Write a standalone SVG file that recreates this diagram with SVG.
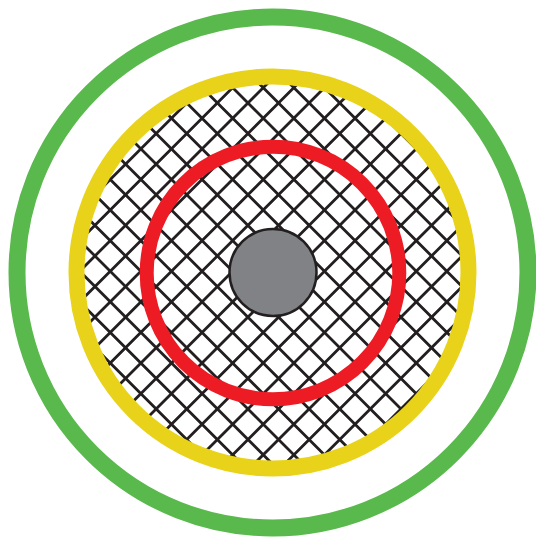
<svg xmlns="http://www.w3.org/2000/svg" width="536" height="538" viewBox="0 0 536 538">
  <defs>
    <clipPath id="inner">
      <circle cx="272.5" cy="272.5" r="196"/>
    </clipPath>
  </defs>
  <style>
    .ring { fill: none; }
    .hatch { fill: none; stroke: #231f20; stroke-width: 2.8; }
  </style>
  <rect width="536" height="538" fill="#ffffff"/>
  <g id="outer-ring">
    <circle class="ring" cx="272.5" cy="272.5" r="255.5" stroke="#59b94c" stroke-width="17"/>
  </g>
  <g id="hatched-layer">
    <g clip-path="url(#inner)">
      <path class="hatch" d="M289.7 0L-255.3 545M320.3 0L-224.7 545M350.9 0L-194.1 545M381.5 0L-163.5 545M412.1 0L-132.9 545M442.7 0L-102.3 545M473.3 0L-71.7 545M503.9 0L-41.1 545M534.5 0L-10.5 545M565.1 0L20.1 545M595.7 0L50.7 545M626.3 0L81.3 545M656.9 0L111.9 545M687.5 0L142.5 545M718.1 0L173.1 545M748.7 0L203.7 545M779.3 0L234.3 545M809.9 0L264.9 545"/>
      <path class="hatch" d="M-252.8 0L292.2 545M-222.2 0L322.8 545M-191.6 0L353.4 545M-161 0L384 545M-130.4 0L414.6 545M-99.8 0L445.2 545M-69.2 0L475.8 545M-38.6 0L506.4 545M-8 0L537 545M22.6 0L567.6 545M53.2 0L598.2 545M83.8 0L628.8 545M114.4 0L659.4 545M145 0L690 545M175.6 0L720.6 545M206.2 0L751.2 545M236.8 0L781.8 545M267.4 0L812.4 545"/>
    </g>
    <circle class="ring" cx="272.5" cy="272.5" r="196" stroke="#e8d31a" stroke-width="16"/>
  </g>
  <g id="red-ring">
    <circle class="ring" cx="273" cy="273" r="126.3" stroke="#ed1c24" stroke-width="14"/>
  </g>
  <g id="core">
    <circle cx="273" cy="272.5" r="43.5" fill="#808285" stroke="#231f20" stroke-width="2.5"/>
  </g>
</svg>
